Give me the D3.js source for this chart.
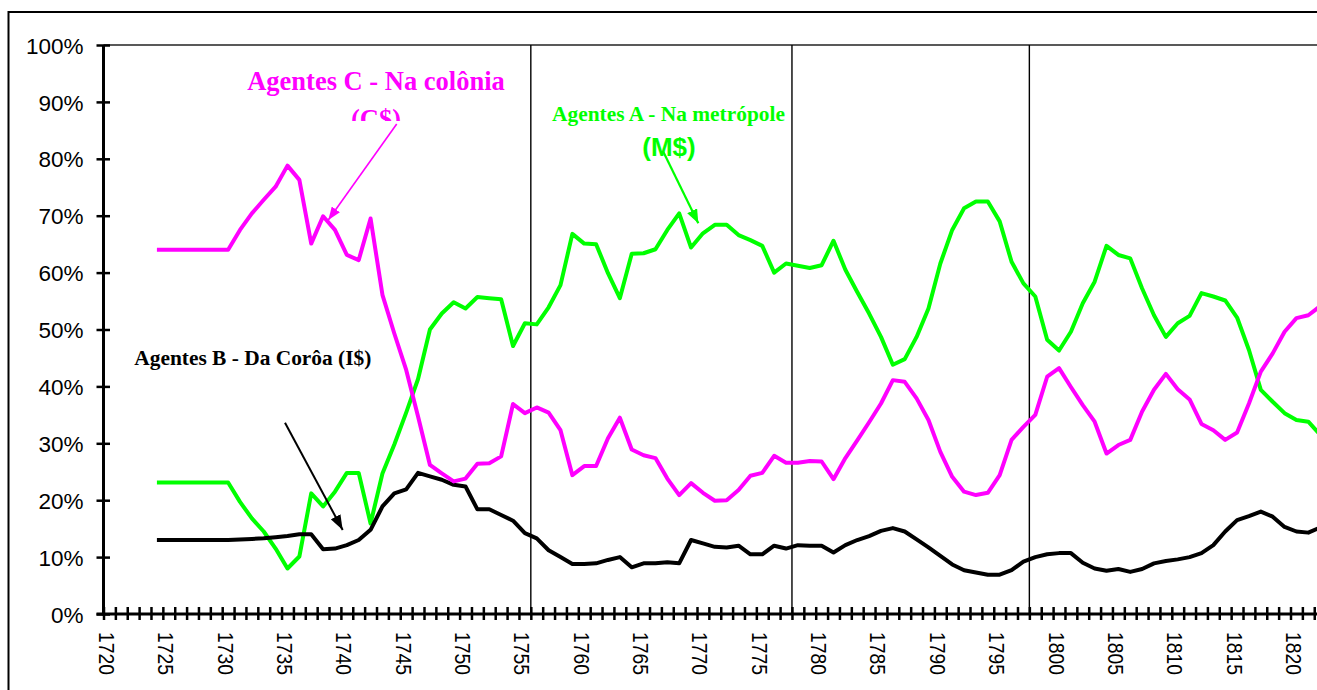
<!DOCTYPE html>
<html>
<head>
<meta charset="utf-8">
<script src="https://cdn.jsdelivr.net/npm/d3@7"></script>
<style>
  body { margin: 0; background: #fff; }
  svg { display: block; }
</style>
</head>
<body>
<div id="canvas"></div>
<script>
// categories (years)
const years = [
  1724, 1725, 1726, 1727, 1728, 1729, 1730, 1731, 1732, 1733,
  1734, 1735, 1736, 1737, 1738, 1739, 1740, 1741, 1742, 1743,
  1744, 1745, 1746, 1747, 1748, 1749, 1750, 1751, 1752, 1753,
  1754, 1755, 1756, 1757, 1758, 1759, 1760, 1761, 1762, 1763,
  1764, 1765, 1766, 1767, 1768, 1769, 1770, 1771, 1772, 1773,
  1774, 1775, 1776, 1777, 1778, 1779, 1780, 1781, 1782, 1783,
  1784, 1785, 1786, 1787, 1788, 1789, 1790, 1791, 1792, 1793,
  1794, 1795, 1796, 1797, 1798, 1799, 1800, 1801, 1802, 1803,
  1804, 1805, 1806, 1807, 1808, 1809, 1810, 1811, 1812, 1813,
  1814, 1815, 1816, 1817, 1818, 1819, 1820, 1821, 1822
];

// Agentes A - Na metrópole (M$), %
const agentesA = [
  23.1, 23.1, 23.1, 23.1, 23.1, 23.1, 23.1, 19.7, 16.8, 14.5,
  11.5, 8.0, 10.1, 21.2, 18.9, 21.5, 24.8, 24.8, 15.9, 24.7,
  29.8, 35.4, 41.3, 50.0, 52.8, 54.8, 53.7, 55.7, 55.5, 55.3,
  47.1, 51.1, 50.9, 53.9, 57.8, 66.8, 65.1, 65.0, 59.9, 55.5,
  63.3, 63.4, 64.1, 67.5, 70.4, 64.4, 66.9, 68.4, 68.4, 66.6,
  65.7, 64.7, 60.0, 61.6, 61.2, 60.8, 61.3, 65.6, 60.5, 56.6,
  52.8, 48.7, 43.8, 44.8, 48.7, 53.7, 61.6, 67.5, 71.3, 72.5,
  72.5, 69.0, 61.9, 58.1, 55.8, 48.2, 46.3, 49.6, 54.6, 58.4,
  64.7, 63.1, 62.5, 57.2, 52.5, 48.7, 51.1, 52.4, 56.4, 55.8,
  55.1, 52.1, 46.4, 39.4, 37.3, 35.3, 34.1, 33.8, 31.5
];

// Agentes B - Da Corôa (I$), %
const agentesB = [
  13.0, 13.0, 13.0, 13.0, 13.0, 13.0, 13.0, 13.1, 13.2, 13.3,
  13.5, 13.7, 14.0, 14.0, 11.4, 11.5, 12.1, 13.0, 14.8, 18.9,
  21.2, 21.9, 24.8, 24.2, 23.6, 22.7, 22.4, 18.4, 18.4, 17.4,
  16.4, 14.2, 13.3, 11.2, 10.0, 8.8, 8.8, 8.9, 9.5, 10.0,
  8.2, 8.9, 8.9, 9.1, 8.9, 13.0, 12.4, 11.8, 11.7, 12.0,
  10.5, 10.5, 12.0, 11.5, 12.1, 12.0, 12.0, 10.8, 12.1, 13.0,
  13.7, 14.6, 15.1, 14.5, 13.1, 11.7, 10.2, 8.7, 7.7, 7.3,
  6.9, 6.9, 7.7, 9.2, 10.0, 10.5, 10.7, 10.7, 9.0, 8.0,
  7.6, 7.9, 7.4, 7.9, 8.9, 9.3, 9.6, 10.0, 10.7, 12.1,
  14.5, 16.5, 17.2, 18.0, 17.1, 15.3, 14.5, 14.3, 15.2
];

// Agentes C - Na colônia (C$), %
const agentesC = [
  64.0, 64.0, 64.0, 64.0, 64.0, 64.0, 64.0, 67.5, 70.4, 72.8,
  75.1, 78.8, 76.3, 65.1, 69.9, 67.5, 63.1, 62.2, 69.5, 56.1,
  49.3, 42.9, 34.7, 26.2, 24.7, 23.3, 23.8, 26.4, 26.5, 27.7,
  36.9, 35.3, 36.3, 35.4, 32.3, 24.4, 26.0, 26.0, 30.9, 34.5,
  28.9, 27.9, 27.4, 23.8, 20.9, 23.0, 21.3, 19.9, 20.0, 21.8,
  24.3, 24.8, 27.8, 26.6, 26.6, 26.9, 26.8, 23.7, 27.4, 30.5,
  33.7, 37.0, 41.1, 40.8, 37.9, 34.1, 28.5, 24.1, 21.5, 20.9,
  21.3, 24.4, 30.6, 32.9, 35.0, 41.7, 43.2, 39.9, 36.7, 33.8,
  28.2, 29.7, 30.6, 35.6, 39.4, 42.2, 39.5, 37.7, 33.4, 32.3,
  30.6, 31.9, 37.0, 42.6, 45.8, 49.6, 52.0, 52.5, 54.1
];

// tick labels
const xTickLabels = ["1720", "1725", "1730", "1735", "1740", "1745", "1750", "1755",
  "1760", "1765", "1770", "1775", "1780", "1785", "1790", "1795", "1800", "1805",
  "1810", "1815", "1820"];
const yTickValues = [0, 10, 20, 30, 40, 50, 60, 70, 80, 90, 100];

// divider years (drawn on the category boundaries)
const dividerYears = [1756, 1778, 1798];

// dimensions
const width = 1317;
const height = 690;
const plotLeft = 103.5;
const plotTop = 45;
const plotBottom = 614;
const yearStep = 11.87;
const firstYear = 1720;
const lastYear = 1826;

var svg = d3.select("#canvas").append("svg")
    .attr("width", width)
    .attr("height", height);

var x = d3.scaleLinear()
    .domain([firstYear, lastYear])
    .range([plotLeft, plotLeft + (lastYear - firstYear) * yearStep]);

var y = d3.scaleLinear()
    .domain([0, 100])
    .range([plotBottom, plotTop]);

// outer chart border
svg.append("rect")
    .attr("x", 8.5)
    .attr("y", 12)
    .attr("width", 2000)
    .attr("height", 1000)
    .attr("fill", "none")
    .attr("stroke", "#000")
    .attr("stroke-width", 2);

// plot area top border
svg.append("line")
    .attr("x1", plotLeft).attr("x2", width + 10)
    .attr("y1", plotTop).attr("y2", plotTop)
    .attr("stroke", "#222")
    .attr("stroke-width", 1.3);

// vertical dividers
svg.selectAll(".divider")
    .data(dividerYears)
    .enter()
    .append("line")
    .attr("class", "divider")
    .attr("x1", d => x(d)).attr("x2", d => x(d))
    .attr("y1", plotTop).attr("y2", plotBottom)
    .attr("stroke", "#000")
    .attr("stroke-width", 1.4);

// series lines
const series = [
  {values: agentesA, color: "#00ff00"},
  {values: agentesB, color: "#000000"},
  {values: agentesC, color: "#ff00ff"}
];

var line = d3.line()
    .x(function(d, i) { return x(years[i] + 0.5) })
    .y(function(d) { return y(d) });

series.forEach(function(s) {
    svg.append("path")
        .datum(s.values)
        .attr("fill", "none")
        .attr("stroke", s.color)
        .attr("stroke-width", 4)
        .attr("stroke-linejoin", "round")
        .attr("d", line);
});

// Y axis
var yAxisGroup = svg.append("g")
    .attr("transform", `translate(${plotLeft}, 0)`)
    .call(d3.axisLeft(y).tickValues(yTickValues).tickFormat(d => d + "%").tickSize(7));
yAxisGroup.select(".domain").remove();
yAxisGroup.selectAll("line")
    .attr("x1", -7).attr("x2", 6.5)
    .attr("stroke", "#000").attr("stroke-width", 2.5);
yAxisGroup.selectAll("text")
    .attr("x", -20)
    .attr("dy", "0.36em")
    .attr("font-family", "Liberation Sans, Arial, sans-serif")
    .attr("font-size", 22.5)
    .attr("fill", "#000");
svg.append("line")
    .attr("x1", plotLeft).attr("x2", plotLeft)
    .attr("y1", plotTop).attr("y2", plotBottom + 1.5)
    .attr("stroke", "#000").attr("stroke-width", 3);

// X axis
var xAxisGroup = svg.append("g")
    .attr("transform", `translate(0, ${plotBottom})`)
    .call(d3.axisBottom(x).tickValues(d3.range(firstYear, lastYear + 1)).tickFormat("").tickSize(6));
xAxisGroup.select(".domain").remove();
xAxisGroup.selectAll("line")
    .attr("y1", -7).attr("y2", 6)
    .attr("stroke", "#000").attr("stroke-width", 2.5);
svg.append("line")
    .attr("x1", plotLeft - 7).attr("x2", width + 10)
    .attr("y1", plotBottom).attr("y2", plotBottom)
    .attr("stroke", "#000").attr("stroke-width", 3);

svg.selectAll(".xlabel")
    .data(xTickLabels)
    .enter()
    .append("text")
    .attr("class", "xlabel")
    .attr("transform", d => `translate(${x(+d + 0.5) - 3}, 632) rotate(90)`)
    .attr("text-anchor", "start")
    .attr("dominant-baseline", "central")
    .attr("font-family", "Liberation Sans, Arial, sans-serif")
    .attr("font-size", 22)
    .attr("textLength", 43)
    .attr("lengthAdjust", "spacingAndGlyphs")
    .text(d => d);

// arrowheads
var defs = svg.append("defs");
function arrowMarker(id, color, len, wid) {
    defs.append("marker")
        .attr("id", id)
        .attr("markerUnits", "userSpaceOnUse")
        .attr("markerWidth", len)
        .attr("markerHeight", wid)
        .attr("refX", len)
        .attr("refY", wid / 2)
        .attr("orient", "auto")
        .append("path")
        .attr("d", `M0,0 L${len},${wid / 2} L0,${wid} Z`)
        .attr("fill", color);
}
arrowMarker("arrowC", "#ff00ff", 13, 10);
arrowMarker("arrowA", "#00ff00", 14, 11);
arrowMarker("arrowB", "#000000", 15, 11);

defs.append("clipPath")
    .attr("id", "clipC")
    .append("rect")
    .attr("x", 0).attr("y", 0)
    .attr("width", width).attr("height", 121);

// annotation: Agentes C
svg.append("text")
    .attr("x", 376).attr("y", 89.5)
    .attr("text-anchor", "middle")
    .attr("font-family", "Liberation Serif, Times New Roman, serif")
    .attr("font-weight", "bold")
    .attr("font-size", 26.5)
    .attr("fill", "#ff00ff")
    .text("Agentes C - Na colônia");
svg.append("text")
    .attr("x", 376).attr("y", 128)
    .attr("text-anchor", "middle")
    .attr("clip-path", "url(#clipC)")
    .attr("font-family", "Liberation Serif, Times New Roman, serif")
    .attr("font-weight", "bold")
    .attr("font-size", 26.5)
    .attr("fill", "#ff00ff")
    .text("(C$)");
svg.append("line")
    .attr("x1", 396.7).attr("y1", 124)
    .attr("x2", 328.3).attr("y2", 220)
    .attr("stroke", "#ff00ff")
    .attr("stroke-width", 1.6)
    .attr("marker-end", "url(#arrowC)");

// annotation: Agentes A
svg.append("text")
    .attr("x", 668.5).attr("y", 120.5)
    .attr("text-anchor", "middle")
    .attr("font-family", "Liberation Serif, Times New Roman, serif")
    .attr("font-weight", "bold")
    .attr("font-size", 21.4)
    .attr("fill", "#00ff00")
    .text("Agentes A - Na metrópole");
svg.append("text")
    .attr("x", 669).attr("y", 156)
    .attr("text-anchor", "middle")
    .attr("font-family", "Liberation Sans, Arial, sans-serif")
    .attr("font-weight", "bold")
    .attr("font-size", 26)
    .attr("fill", "#00ff00")
    .text("(M$)");
svg.append("line")
    .attr("x1", 663.3).attr("y1", 151.7)
    .attr("x2", 698.3).attr("y2", 223.3)
    .attr("stroke", "#00ff00")
    .attr("stroke-width", 2.2)
    .attr("marker-end", "url(#arrowA)");

// annotation: Agentes B
svg.append("text")
    .attr("x", 134.3).attr("y", 365)
    .attr("text-anchor", "start")
    .attr("font-family", "Liberation Serif, Times New Roman, serif")
    .attr("font-weight", "bold")
    .attr("font-size", 21.4)
    .attr("fill", "#000")
    .text("Agentes B - Da Corôa (I$)");
svg.append("line")
    .attr("x1", 285).attr("y1", 422.7)
    .attr("x2", 342.7).attr("y2", 530)
    .attr("stroke", "#000")
    .attr("stroke-width", 2)
    .attr("marker-end", "url(#arrowB)");
</script>
</body>
</html>
